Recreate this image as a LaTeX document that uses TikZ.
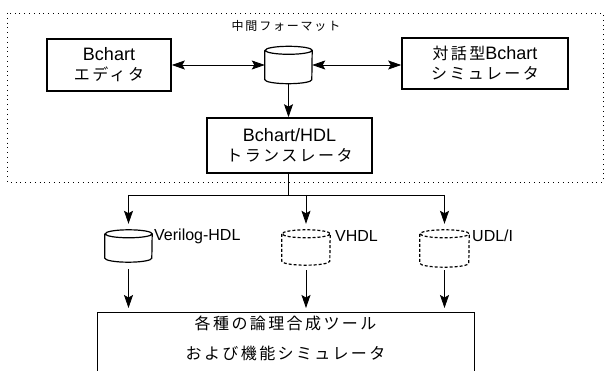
\documentclass[tikz,border=0pt]{standalone}
\usepackage{fontspec}
\setmainfont{Liberation Sans}
\newfontfamily\jpfont[LetterSpace=15]{Noto Sans CJK JP}
\usetikzlibrary{arrows.meta,calc}
\newcommand\J[1]{{\jpfont\fontsize{16}{20}\selectfont #1}}
\newcommand\drawcyl[3][]{%
  \draw[#1] ($(#2.north west)+(0,4)$) -- ($(#2.south west)+(0,-4)$)
    arc[start angle=180,end angle=360,x radius=#3pt,y radius=4pt]
    -- ($(#2.north east)+(0,4)$)
    arc[start angle=0,end angle=360,x radius=#3pt,y radius=4pt];}
\begin{document}
\begin{tikzpicture}[x=1pt,y=-1pt,
  box/.style={draw, line width=1.6pt, align=center, inner sep=0pt,
    font=\fontsize{18}{20}\selectfont},
  cylbox/.style={rectangle, inner sep=0pt},
  tip/.style={},
  conn/.style={-{Stealth[length=13pt,width=9pt,inset=2.5pt]}, line width=0.8pt},
  bidir/.style={{Stealth[length=13pt,width=9pt,inset=2.5pt]}-{Stealth[length=13pt,width=9pt,inset=2.5pt]}, line width=0.8pt},
  lbl/.style={inner sep=0pt, anchor=west, font=\fontsize{16}{18}\selectfont},
  cylline/.style={line width=1.2pt},
  cyldash/.style={line width=1.2pt, dash pattern=on 3pt off 2pt}]
\clip (0,0) rectangle (605,371);
% dotted frame
\draw[line width=0.9pt, dash pattern=on 0.8pt off 4pt] (7,13) rectangle (603,182);
\node[inner sep=0pt] (ttl) at (286,26) {\jpfont\fontsize{12}{14}\selectfont 中間フォーマット};
% top row
\node[box, minimum width=124pt, minimum height=52pt] (ed) at (109,65) {Bchart\\\J{エディタ}};
\node[cylbox, minimum width=47pt, minimum height=37pt] (db) at (288.5,65) {};
\drawcyl[cylline]{db}{23.5}
\node[box, minimum width=166pt, minimum height=51pt] (sim) at (485,63.5) {\J{対話型}Bchart\\\J{シミュレータ}};
\node[box, minimum width=165pt, minimum height=55pt] (tr) at (289.5,145.5) {Bchart/HDL\\\J{トランスレータ}};
\draw[bidir] (ed.east) -- (db.west);
\draw[bidir] (db.east) -- (db.east -| sim.west);
\draw[conn] (db.south) -- (db.south |- tr.north);
% lower cylinders
\node[cylbox, minimum width=47pt, minimum height=32pt] (vl) at (128.5,246) {};
\node[cylbox, minimum width=48pt, minimum height=35pt] (vh) at (306,247.5) {};
\node[cylbox, minimum width=49pt, minimum height=37pt] (ud) at (444.5,248.5) {};
\drawcyl[cylline]{vl}{23.5}
\drawcyl[cyldash]{vh}{24}
\drawcyl[cyldash]{ud}{24.5}
\node[lbl] (lvl) at (154,236) {Verilog-HDL};
\node[lbl] (lvh) at (335,236) {VHDL};
\node[lbl] (lud) at (472,236) {UDL/I};
% branches
\coordinate (brL) at (128.5,195);
\coordinate (brR) at (444.5,195);
\draw[line width=0.8pt] (db.south |- tr.south) -- (db.south |- brL);
\draw[line width=0.8pt] (brL) -- (brR);
\draw[conn, shorten >=6pt] (brL) -- (vl.north);
\draw[conn, shorten >=6pt] (vh.north |- brL) -- (vh.north);
\draw[conn, shorten >=6pt] (brR) -- (ud.north);
% tools box
\node[draw, line width=1pt, anchor=north west, minimum width=377pt, minimum height=80pt, inner sep=0pt] (tools) at (97,312) {};
\node[align=center, inner sep=0pt, font=\fontsize{16}{30}\selectfont] (tt) at (285.5,338) {\J{各種の論理合成ツール}\\\J{および機能シミュレータ}};
\draw[conn, shorten >=4pt] ([yshift=-7pt]vl.south) -- (vl.south |- tools.north);
\draw[conn, shorten >=4pt] ([yshift=-5pt]vh.south) -- (vh.south |- tools.north);
\draw[conn, shorten >=4pt] ([yshift=-3pt]ud.south) -- (ud.south |- tools.north);
\end{tikzpicture}
\end{document}
